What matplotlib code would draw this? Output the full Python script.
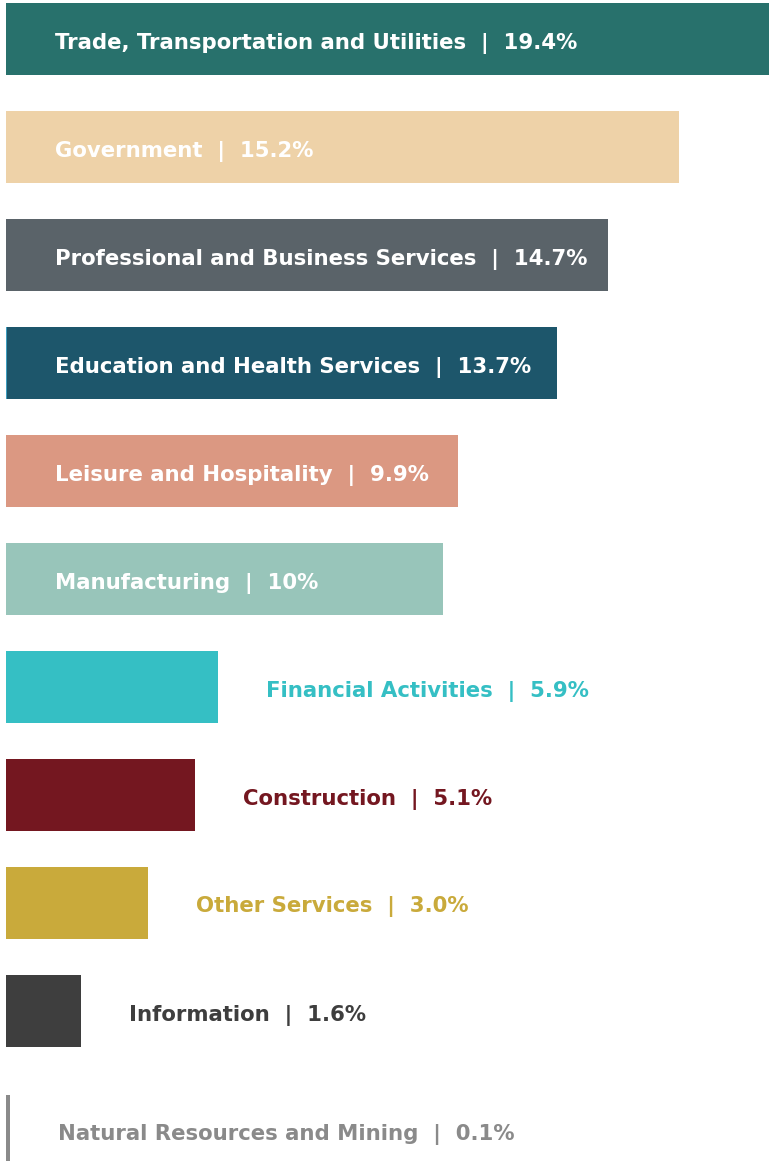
import matplotlib
matplotlib.use("Agg")
import matplotlib.pyplot as plt

# sector shares (labels) and bar lengths
sectors = ["Trade, Transportation and Utilities", "Government",
           "Professional and Business Services", "Education and Health Services",
           "Leisure and Hospitality", "Manufacturing", "Financial Activities",
           "Construction", "Other Services", "Information",
           "Natural Resources and Mining"]
share_labels = ["19.4%", "15.2%", "14.7%", "13.7%", "9.9%", "10%", "5.9%",
                "5.1%", "3.0%", "1.6%", "0.1%"]
bar_lengths = [19.4, 17.1, 15.3, 14.0, 11.5, 11.1, 5.4, 4.8, 3.6, 1.9, 0.1]
colors = ["#28716c", "#eed2a8", "#5a6369", "#1d566b", "#db9882", "#98c5ba",
          "#35bfc4", "#741720", "#c9aa3b", "#3e3e3e", "#8a8a8a"]
inside = [True, True, True, True, True, True, False, False, False, False, False]

W, H = 769, 1161
px = 763 / 19.4   # pixels per unit
fig = plt.figure(figsize=(W / 100, H / 100), dpi=100)
ax = fig.add_axes([0, 0, 1, 1])
ax.set_xlim(-6 / px, (W - 6) / px)
ax.set_ylim((H - 39) / 108, -39 / 108)
ax.axis('off')

ypos = [i + (12 / 108 if i == len(sectors) - 1 else 0) for i in range(len(sectors))]
ax.barh(ypos, bar_lengths, height=72 / 108, color=colors, left=0)
# light edge on the education bar
ax.barh(ypos[3], 1.5 / px, height=72 / 108, color="#3d9dbf", left=0)

for y, name, lab, L, c, ins in zip(ypos, sectors, share_labels, bar_lengths, colors, inside):
    txt = f"{name}  |  {lab}"
    if ins:
        x = 49 / px
        tc = "white"
    else:
        x = L + 48 / px
        tc = c
    ax.text(x, y + 4 / 108, txt, color=tc, fontsize=15.3, fontweight='bold',
            family='DejaVu Sans', va='center', ha='left')

fig.savefig("out.png", dpi=100)
